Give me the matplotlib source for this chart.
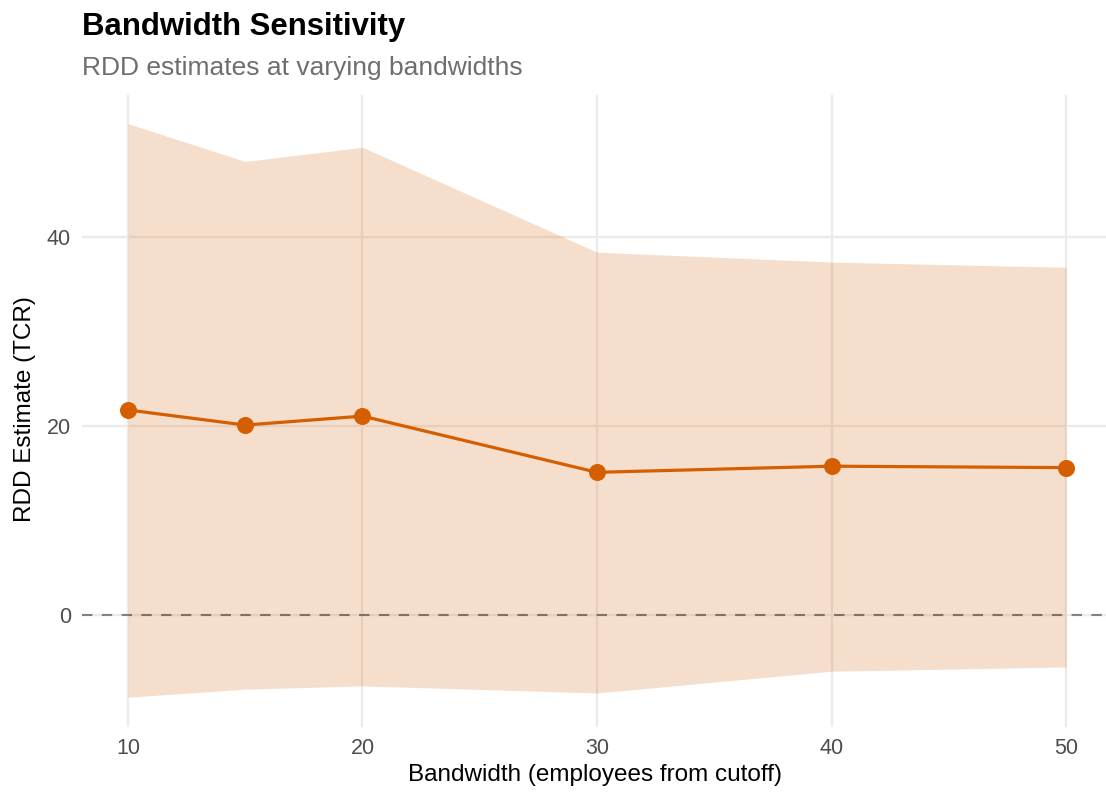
import matplotlib
matplotlib.use("Agg")
import matplotlib.pyplot as plt

bandwidth = [10, 15, 20, 30, 40, 50]
estimate = [21.7, 20.1, 21.05, 15.1, 15.75, 15.6]
ci_lower = [-8.7, -7.85, -7.5, -8.25, -5.95, -5.5]
ci_upper = [52.0, 48.0, 49.5, 38.4, 37.35, 36.8]
x_ticks = [10, 20, 30, 40, 50]
y_ticks = [0, 20, 40]

plt.rcParams['font.family'] = ['Liberation Sans', 'DejaVu Sans']

W, H = 1106, 793
fig = plt.figure(figsize=(W / 100, H / 100), dpi=100)
# panel in pixels: left 82, right ~1113, top 95, bottom 727
pl, pr, pt, pb = 82, 1113, 95, 727
ax = fig.add_axes([pl / W, 1 - pb / H, (pr - pl) / W, (pb - pt) / H])

orange = '#D55E00'
ax.fill_between(bandwidth, ci_lower, ci_upper, color=orange, alpha=0.2, linewidth=0, zorder=2)
ax.axhline(0, color='black', alpha=0.45, linestyle=(0, (5, 4.5)), linewidth=1.5, zorder=3)
ax.plot(bandwidth, estimate, color=orange, linewidth=2.3, zorder=4)
ax.scatter(bandwidth, estimate, color=orange, s=150, zorder=5, linewidths=0)

ax.set_xlim(8.04, 52.0)
ax.set_ylim(-11.85, 55.03)
ax.set_xticks(x_ticks)
ax.set_yticks(y_ticks)
ax.grid(True, color='#EBEBEB', linewidth=1.6, zorder=1)
ax.set_axisbelow(True)
for s in ax.spines.values():
    s.set_visible(False)
ax.tick_params(length=0, labelsize=15.5, labelcolor='#4D4D4D', pad=8)

ax.set_xlabel('Bandwidth (employees from cutoff)', fontsize=17.5, color='black', va='center')
ax.set_ylabel('RDD Estimate (TCR)', fontsize=17.5, color='black', va='center')
ax.xaxis.set_label_coords((595 - pl) / (pr - pl), (pb - 775) / (pb - pt))
ax.yaxis.set_label_coords((25 - pl) / (pr - pl), (pb - 409) / (pb - pt))

fig.text(pl / W, 1 - 27 / H, 'Bandwidth Sensitivity', fontsize=22.4, fontweight='bold', ha='left', va='center')
fig.text(pl / W, 1 - 68 / H, 'RDD estimates at varying bandwidths', fontsize=19, color='#6E6E6E', ha='left', va='center')

fig.savefig('out.png', dpi=100)
